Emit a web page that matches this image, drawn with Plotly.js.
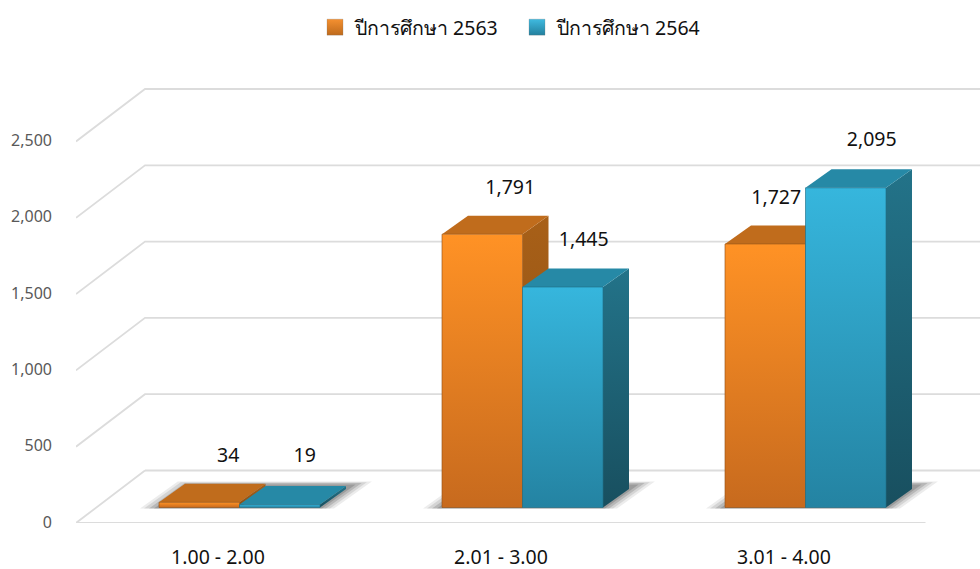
<!DOCTYPE html>
<html>
<head>
<meta charset="utf-8">
<script src="https://cdn.plot.ly/plotly-3.0.1.min.js"></script>
<style>html,body{margin:0;padding:0;background:#fff}#chart{width:980px;height:569px}</style>
</head>
<body>
<div id="chart"></div>
<script>
// ---- data ----
var categories = ['1.00 - 2.00', '2.01 - 3.00', '3.01 - 4.00'];
var seriesNames = ['ปีการศึกษา 2563', 'ปีการศึกษา 2564'];
var values2563 = [34, 1791, 1727];
var values2564 = [19, 1445, 2095];
var yTicks = [0, 500, 1000, 1500, 2000, 2500];

// ---- geometry of the oblique projection (axis units) ----
var PX_X = 283, PX_Y = 0.1526;
var PLOT_L = 76, PLOT_R = 0, PLOT_B = 46, W = 980, H = 569;
var plotW = W - PLOT_L - PLOT_R, plotH = H - PLOT_B;
var xMin = -142 / PX_X, xMax = xMin + plotW / PX_X;
var yMaxV = plotH / PX_Y;
var floorDX = 69 / PX_X, floorDY = 52.5 / PX_Y;
var barDX = 26 / PX_X, barDY = 18.5 / PX_Y;
var barW = 80.5 / PX_X;
var barBase = 15.5 / PX_Y;
var groupStart = (159 - 218) / PX_X;
var fontName = '"Noto Sans", "DejaVu Sans", sans-serif';

var styles = [
  {front: ['#FF9225', '#C76A1E'], top: '#C06C1C', side: ['#A86018', '#8A4E14'], edge: 'rgba(150,85,25,0.65)', legend: ['#F59030', '#BE6A1C']},
  {front: ['#36B6DD', '#2483A2'], top: '#2689A6', side: ['#237389', '#184F5F'], edge: 'rgba(30,110,135,0.65)', legend: ['#3FBAE0', '#23809E']}
];
// label offsets from the front-face centre / top, in px
var labelOffsets = [
  [[29, -45], [28, -45], [11, -45]],
  [[25, -47], [21, -46], [26, -47]]
];

var traces = [];
function poly(xs, ys, grad, color, line) {
  var t = {type: 'scatter', x: xs.concat(xs[0]), y: ys.concat(ys[0]), mode: 'lines', fill: 'toself',
    showlegend: false, hoverinfo: 'skip', line: line || {width: 0}};
  if (grad) t.fillgradient = {type: 'vertical', colorscale: [[0, grad[1]], [1, grad[0]]]};
  else t.fillcolor = color;
  return t;
}

// gridlines
yTicks.forEach(function (v) {
  var xs = [xMin + floorDX, xMax + 0.1], ys = [v + floorDY, v + floorDY];
  if (v > 0) { xs.unshift(xMin); ys.unshift(v); }
  traces.push({type: 'scatter', x: xs, y: ys, mode: 'lines', showlegend: false, hoverinfo: 'skip',
    line: {color: '#DCDCDC', width: 1.8}});
});
// floor outline
traces.push({type: 'scatter', x: [xMin + floorDX, xMin, 2.5], y: [floorDY, 0, 0], mode: 'lines', showlegend: false,
  hoverinfo: 'skip', line: {color: '#DCDCDC', width: 1.8}});

// soft floor shadows
categories.forEach(function (c, i) {
  var x0 = i + groupStart, x1 = x0 + 2 * barW;
  [[-19, 14, 0.10, 0], [-15, 10, 0.14, 0.5], [-10, 6, 0.2, 1], [-5, 2, 0.25, 2]].forEach(function (s) {
    var l = x0 + s[0] / PX_X, r = x1 + s[1] / PX_X;
    var dep = (27 - s[3] * 1.5) / PX_Y, depX = (dep * PX_Y) * 1.4 / PX_X;
    var b = barBase - 1 / PX_Y;
    traces.push(poly([l, r, r + depX, l + depX], [b, b, b + dep, b + dep], null, 'rgba(70,70,70,' + s[2] + ')'));
  });
});

// bars, back series first
function addBars(vals, k) {
  var st = styles[k];
  vals.forEach(function (v, i) {
    var x0 = i + groupStart + k * barW, x1 = x0 + barW, y0 = barBase, y1 = barBase + v;
    traces.push(poly([x1, x1 + barDX, x1 + barDX, x1], [y0, y0 + barDY, y1 + barDY, y1], st.side));
    traces.push(poly([x0, x1, x1 + barDX, x0 + barDX], [y1, y1, y1 + barDY, y1 + barDY], null, st.top));
    traces.push(poly([x0, x1, x1, x0], [y0, y0, y1, y1], st.front, null, {color: st.edge, width: 1}));
  });
}
addBars(values2563, 0);
addBars(values2564, 1);

// value labels
[values2563, values2564].forEach(function (vals, k) {
  traces.push({type: 'scatter', mode: 'text', showlegend: false, hoverinfo: 'skip',
    x: vals.map(function (v, i) { return i + groupStart + k * barW + barW / 2 + labelOffsets[k][i][0] / PX_X; }),
    y: vals.map(function (v, i) { return barBase + v - labelOffsets[k][i][1] / PX_Y; }),
    text: vals.map(function (v) { return v.toLocaleString('en-US'); }),
    textposition: 'middle center', textfont: {family: fontName, size: 19.5, color: '#111'}});
});

// legend carriers
seriesNames.forEach(function (n, k) {
  traces.push({type: 'scatter', mode: 'markers', name: n, x: [null], y: [null], showlegend: true,
    marker: {symbol: 'square', size: 18, color: styles[k].legend[0],
      gradient: {type: 'vertical', color: styles[k].legend[1]},
      line: {color: 'rgba(120,120,120,0.5)', width: 0.5}}});
});

var layout = {
  width: W, height: H, paper_bgcolor: '#fff', plot_bgcolor: 'rgba(0,0,0,0)',
  margin: {l: PLOT_L, r: PLOT_R, t: 0, b: PLOT_B, pad: 0},
  showlegend: true,
  legend: {orientation: 'h', x: (315 - PLOT_L) / plotW, xref: 'paper', xanchor: 'left', y: 1 - 8 / plotH, yref: 'paper', yanchor: 'top',
    entrywidth: 157, entrywidthmode: 'pixels',
    font: {family: fontName, size: 19.5, color: '#111'}, bgcolor: 'rgba(0,0,0,0)', itemclick: false, itemdoubleclick: false},
  xaxis: {range: [xMin, xMax], tickmode: 'array', tickvals: [0, 1, 2], ticktext: categories, ticks: '',
    showgrid: false, zeroline: false, showline: false, ticklabelstandoff: 20,
    tickfont: {family: fontName, size: 19.5, color: '#111'}},
  yaxis: {range: [0, yMaxV], tickmode: 'array', tickvals: yTicks, tickformat: ',d', ticks: '',
    showgrid: false, zeroline: false, showline: false, ticklabelstandoff: 23, ticklabelshift: -1,
    tickfont: {family: fontName, size: 16, color: '#595959'}},
  hovermode: false
};
Plotly.newPlot('chart', traces, layout, {displayModeBar: false, staticPlot: true});
</script>
</body>
</html>
